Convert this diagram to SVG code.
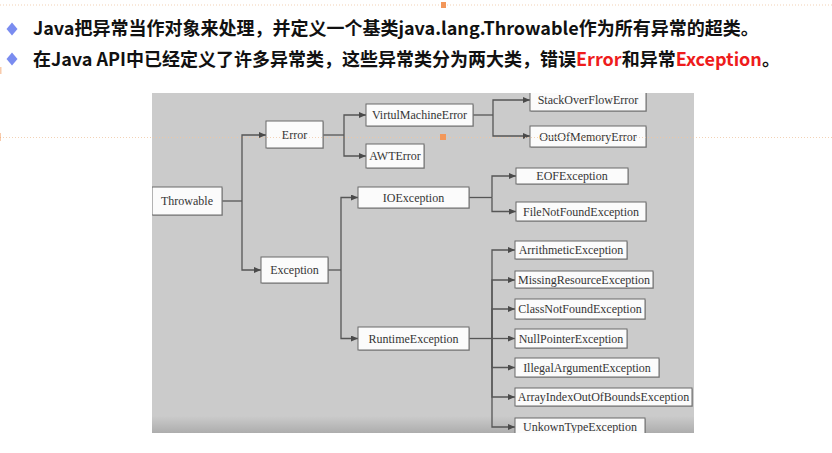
<svg xmlns="http://www.w3.org/2000/svg" width="832" height="453" viewBox="0 0 832 453">
  <style>
    .head { font-family: "Noto Sans CJK SC", "Noto Sans", sans-serif; font-weight: 700; font-size: 18px; fill: #111; }
    .red { fill: #ee1c1c; }
    .bullet { fill: #7a8cf0; }
    .box { fill: #fbfbfb; stroke: #6b6b6b; stroke-width: 1; }
    .shadow { fill: #8a8a8a; opacity: 0.55; }
    .lbl { font-family: "Liberation Serif", "Times New Roman", serif; font-size: 12px; fill: #353535; text-anchor: middle; }
    .wire { fill: none; stroke: #565656; stroke-width: 1.3; }
    .arrow { fill: none; stroke: #565656; stroke-width: 1.3; marker-end: url(#tip); }
    .guide { stroke: #f0c7a4; stroke-width: 1; stroke-dasharray: 1 2; opacity: 0.8; }
    .handle { fill: #f2975a; }
  </style>
  <defs>
    <marker id="tip" markerUnits="userSpaceOnUse" markerWidth="7" markerHeight="6" refX="7" refY="3" orient="auto">
      <path d="M0,0 L7,3 L0,6 z" fill="#4a4a4a"/>
    </marker>
    <clipPath id="panel">
      <rect x="152" y="93" width="542" height="340"/>
    </clipPath>
    <linearGradient id="panelFill" x1="0" y1="0" x2="0" y2="1">
      <stop offset="0" stop-color="#cbcbcb"/>
      <stop offset="0.95" stop-color="#cbcbcb"/>
      <stop offset="1" stop-color="#adadad"/>
    </linearGradient>
  </defs>

  <rect width="832" height="453" fill="#ffffff"/>

  <!-- heading bullets -->
  <g id="heading">
    <path class="bullet" d="M12,22.5 L17.5,29 L12,35.5 L6.5,29 z"/>
    <text class="head" x="33" y="35">Java把异常当作对象来处理，并定义一个基类java.lang.Throwable作为所有异常的超类。</text>
    <path class="bullet" d="M12,52.5 L17.5,59 L12,65.5 L6.5,59 z"/>
    <text class="head" x="33" y="65.5">在Java API中已经定义了许多异常类，这些异常类分为两大类，错误<tspan class="red">Error</tspan>和异常<tspan class="red">Exception</tspan>。</text>
  </g>

  <!-- class hierarchy panel -->
  <rect x="152" y="93" width="542" height="340" fill="url(#panelFill)"/>

  <g clip-path="url(#panel)">
    <g id="connectors">
      <path class="wire" d="M222,201 H242"/>
      <path class="arrow" d="M242,201 V135 H266"/>
      <path class="arrow" d="M242,201 V270 H261"/>

      <path class="wire" d="M323,135 H344"/>
      <path class="arrow" d="M344,135 V115 H366"/>
      <path class="arrow" d="M344,135 V156 H366"/>

      <path class="wire" d="M473,115 H493"/>
      <path class="arrow" d="M493,115 V100 H530"/>
      <path class="arrow" d="M493,115 V136 H530"/>

      <path class="wire" d="M328,270 H341"/>
      <path class="arrow" d="M341,270 V197.5 H358"/>
      <path class="arrow" d="M341,270 V338.5 H358"/>

      <path class="wire" d="M469,197.5 H492"/>
      <path class="arrow" d="M492,197.5 V176 H516"/>
      <path class="arrow" d="M492,197.5 V211.5 H516"/>

      <path class="wire" d="M469,338.5 H492"/>
      <path class="arrow" d="M492,338.5 V250 H515"/>
      <path class="arrow" d="M492,338.5 V280 H515"/>
      <path class="arrow" d="M492,338.5 V309 H515"/>
      <path class="arrow" d="M492,338.5 H515"/>
      <path class="arrow" d="M492,338.5 V367.5 H515"/>
      <path class="arrow" d="M492,338.5 V397 H515"/>
      <path class="arrow" d="M492,338.5 V427 H515"/>
    </g>

    <g id="throwable">
      <rect class="shadow" x="153" y="188" width="70" height="28"/>
      <rect class="box" x="152" y="187" width="70" height="28"/>
      <text class="lbl" x="187" y="205">Throwable</text>
    </g>
    <g id="error">
      <rect class="shadow" x="267" y="122" width="57" height="27"/>
      <rect class="box" x="266" y="121" width="57" height="27"/>
      <text class="lbl" x="294.5" y="139">Error</text>
    </g>
    <g id="exception">
      <rect class="shadow" x="262" y="258" width="67" height="26"/>
      <rect class="box" x="261" y="257" width="67" height="26"/>
      <text class="lbl" x="294.5" y="274">Exception</text>
    </g>
    <g id="virtual-machine-error">
      <rect class="shadow" x="367" y="105" width="107" height="22"/>
      <rect class="box" x="366" y="104" width="107" height="22"/>
      <text class="lbl" x="419.5" y="119">VirtulMachineError</text>
    </g>
    <g id="awt-error">
      <rect class="shadow" x="367" y="145" width="58" height="24"/>
      <rect class="box" x="366" y="144" width="58" height="24"/>
      <text class="lbl" x="395" y="160">AWTError</text>
    </g>
    <g id="stack-overflow-error">
      <rect class="shadow" x="531" y="90" width="116" height="22"/>
      <rect class="box" x="530" y="89" width="116" height="22"/>
      <text class="lbl" x="588" y="104">StackOverFlowError</text>
    </g>
    <g id="out-of-memory-error">
      <rect class="shadow" x="531" y="127" width="116" height="21"/>
      <rect class="box" x="530" y="126" width="116" height="21"/>
      <text class="lbl" x="588" y="140.5">OutOfMemoryError</text>
    </g>
    <g id="io-exception">
      <rect class="shadow" x="359" y="188" width="111" height="21"/>
      <rect class="box" x="358" y="187" width="111" height="21"/>
      <text class="lbl" x="413.5" y="201.5">IOException</text>
    </g>
    <g id="eof-exception">
      <rect class="shadow" x="517" y="169" width="112" height="16"/>
      <rect class="box" x="516" y="168" width="112" height="16"/>
      <text class="lbl" x="572" y="180">EOFException</text>
    </g>
    <g id="file-not-found-exception">
      <rect class="shadow" x="517" y="203" width="130" height="19"/>
      <rect class="box" x="516" y="202" width="130" height="19"/>
      <text class="lbl" x="581" y="215.5">FileNotFoundException</text>
    </g>
    <g id="runtime-exception">
      <rect class="shadow" x="359" y="328" width="111" height="23"/>
      <rect class="box" x="358" y="327" width="111" height="23"/>
      <text class="lbl" x="413.5" y="342.5">RuntimeException</text>
    </g>
    <g id="arithmetic-exception">
      <rect class="shadow" x="516" y="242" width="112" height="18"/>
      <rect class="box" x="515" y="241" width="112" height="18"/>
      <text class="lbl" x="571" y="254">ArrithmeticException</text>
    </g>
    <g id="missing-resource-exception">
      <rect class="shadow" x="516" y="272" width="138" height="17"/>
      <rect class="box" x="515" y="271" width="138" height="17"/>
      <text class="lbl" x="584" y="284">MissingResourceException</text>
    </g>
    <g id="class-not-found-exception">
      <rect class="shadow" x="516" y="300" width="130" height="20"/>
      <rect class="box" x="515" y="299" width="130" height="20"/>
      <text class="lbl" x="580" y="313">ClassNotFoundException</text>
    </g>
    <g id="null-pointer-exception">
      <rect class="shadow" x="516" y="330" width="112" height="19"/>
      <rect class="box" x="515" y="329" width="112" height="19"/>
      <text class="lbl" x="571" y="342.5">NullPointerException</text>
    </g>
    <g id="illegal-argument-exception">
      <rect class="shadow" x="516" y="359" width="144" height="19"/>
      <rect class="box" x="515" y="358" width="144" height="19"/>
      <text class="lbl" x="587" y="371.5">IllegalArgumentException</text>
    </g>
    <g id="array-index-out-of-bounds-exception">
      <rect class="shadow" x="516" y="389" width="177" height="18"/>
      <rect class="box" x="515" y="388" width="177" height="18"/>
      <text class="lbl" x="603.5" y="401">ArrayIndexOutOfBoundsException</text>
    </g>
    <g id="unkown-type-exception">
      <rect class="shadow" x="516" y="419" width="130" height="18"/>
      <rect class="box" x="515" y="418" width="130" height="18"/>
      <text class="lbl" x="580" y="431">UnkownTypeException</text>
    </g>
  </g>

  <!-- editor guide lines and handles -->
  <g id="guides">
    <line class="guide" x1="0" y1="5" x2="832" y2="5"/>
    <rect class="handle" x="441" y="2" width="5" height="6"/>
    <line class="guide" x1="0" y1="137.5" x2="832" y2="137.5"/>
    <rect class="handle" x="440" y="134" width="6" height="6"/>
    <rect class="handle" x="0" y="133" width="1" height="8" opacity="0.5"/>
    <rect class="handle" x="0" y="67" width="1.5" height="7" opacity="0.5"/>
  </g>
</svg>
